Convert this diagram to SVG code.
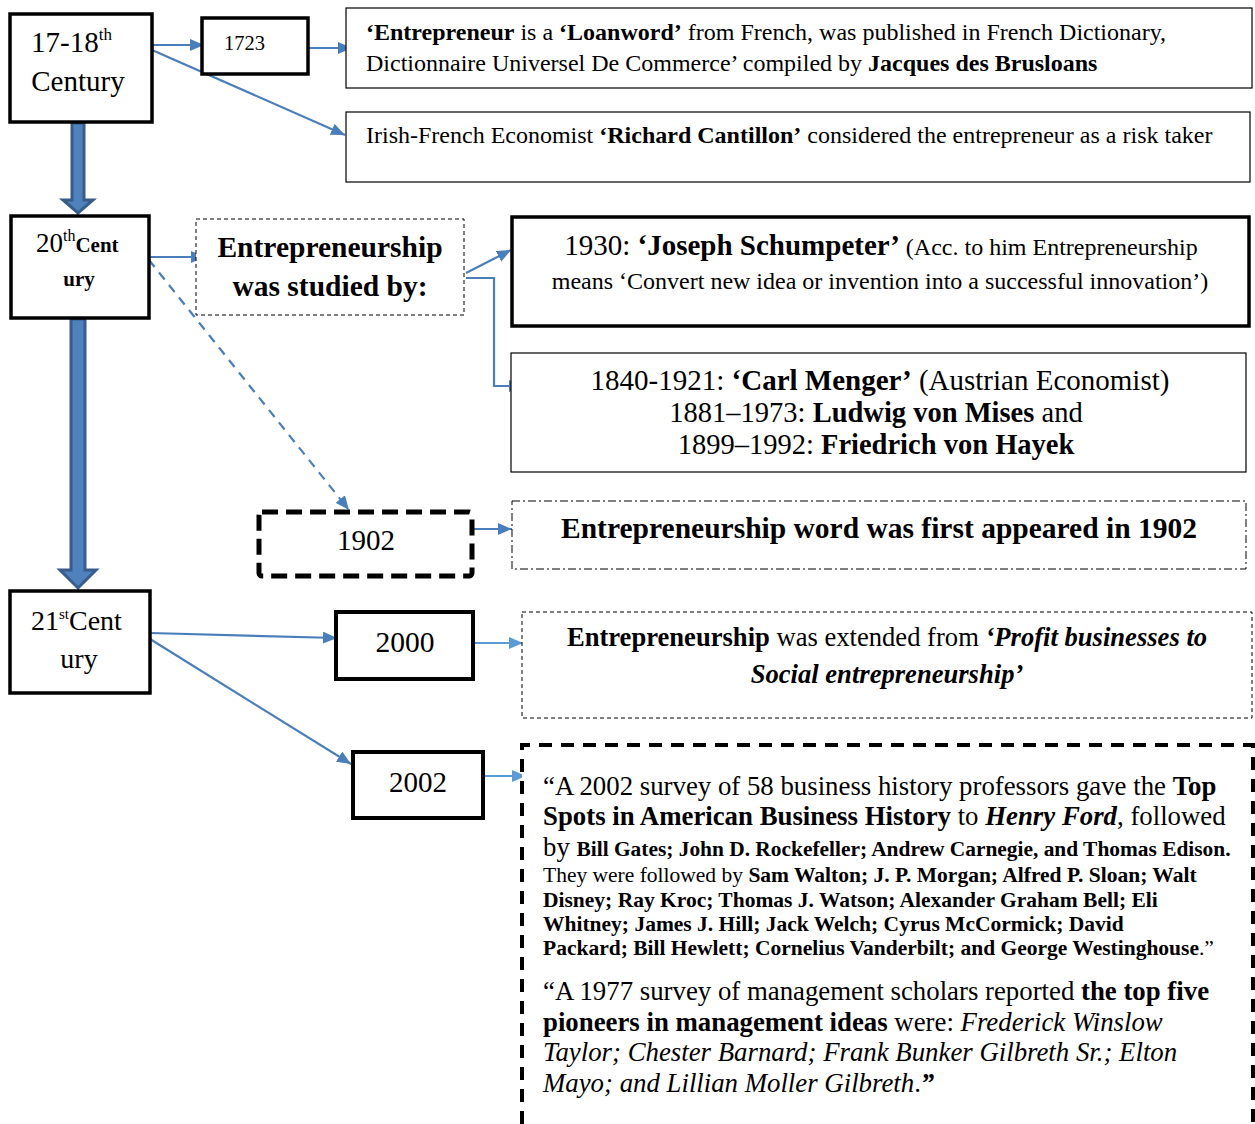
<svg xmlns="http://www.w3.org/2000/svg" width="1255" height="1124" viewBox="0 0 1255 1124">
<style>
text{font-family:"Liberation Serif","Times New Roman",serif;fill:#000}
.b{font-weight:bold}
.i{font-style:italic}
.thick{fill:#fff;stroke:#000;stroke-width:3.5}
.thin{fill:#fff;stroke:#000;stroke-width:1.2}
.c{fill:none;stroke:#4a7ebb;stroke-width:2.2}
.c2{fill:none;stroke:#5b9bd5;stroke-width:2.2}
.big{fill:#4f81bd;stroke:#385d8a;stroke-width:3}
</style>
<defs>
<marker id="a" viewBox="0 0 14 12" refX="14" refY="6" markerWidth="14" markerHeight="12" markerUnits="userSpaceOnUse" orient="auto"><path d="M0,0L14,6L0,12z" fill="#4a7ebb"/></marker>
<marker id="a2" viewBox="0 0 14 12" refX="14" refY="6" markerWidth="14" markerHeight="12" markerUnits="userSpaceOnUse" orient="auto"><path d="M0,0L14,6L0,12z" fill="#5b9bd5"/></marker>
</defs>
<rect width="1255" height="1124" fill="#fff"/>

<g id="connectors">
<path class="big" d="M72,123H84V200H93L78,213L63,200H72Z"/>
<path class="big" d="M71,319H85V570H96L78,588L60,570H71Z"/>
<line class="c" x1="152" y1="45" x2="204" y2="45" marker-end="url(#a)"/>
<line class="c" x1="305" y1="48" x2="352" y2="48" marker-end="url(#a)"/>
<line class="c" x1="152" y1="50" x2="345" y2="135" marker-end="url(#a)"/>
<line class="c" x1="149" y1="257" x2="205" y2="257" marker-end="url(#a)"/>
<line class="c" x1="466" y1="273" x2="511" y2="250" marker-end="url(#a)"/>
<path class="c" d="M466,278H494V386H523" marker-end="url(#a)"/>
<line class="c" x1="149" y1="260" x2="349" y2="510" stroke-dasharray="9,7" marker-end="url(#a)"/>
<line class="c" x1="472" y1="529" x2="512" y2="529" marker-end="url(#a)"/>
<line class="c" x1="150" y1="633" x2="337" y2="638" marker-end="url(#a)"/>
<line class="c" x1="150" y1="639" x2="351" y2="764" marker-end="url(#a)"/>
<line class="c2" x1="473" y1="643" x2="523" y2="643" marker-end="url(#a2)"/>
<line class="c2" x1="483" y1="776" x2="526" y2="776" marker-end="url(#a2)"/>
</g>

<g id="n-17-18">
<rect class="thick" x="10" y="14" width="142" height="108"/>
<text x="31" y="52" font-size="29">17-18<tspan font-size="17" dy="-12">th</tspan></text>
<text x="78" y="91" font-size="29" text-anchor="middle">Century</text>
</g>

<g id="n-1723">
<rect class="thick" x="202" y="18" width="106" height="56"/>
<text x="224" y="50" font-size="20.5">1723</text>
</g>

<g id="n-loanword">
<rect class="thin" x="346" y="8" width="906" height="80"/>
<text x="366" y="40" font-size="24"><tspan class="b">‘Entrepreneur</tspan> is a <tspan class="b">‘Loanword’</tspan> from French, was published in French Dictionary,</text>
<text x="366" y="71" font-size="24">Dictionnaire Universel De Commerce’ compiled by <tspan class="b">Jacques des Brusloans</tspan></text>
</g>

<g id="n-cantillon">
<rect class="thin" x="346" y="112" width="904" height="70"/>
<text x="366" y="143" font-size="24">Irish-French Economist <tspan class="b">‘Richard Cantillon’</tspan> considered the entrepreneur as a risk taker</text>
</g>

<g id="n-20">
<rect class="thick" x="11" y="216" width="138" height="102"/>
<text x="36" y="252" font-size="27">20<tspan font-size="16" dy="-11">th</tspan><tspan class="b" font-size="21" dy="11">Cent</tspan></text>
<text x="79" y="286" font-size="21" class="b" text-anchor="middle">ury</text>
</g>

<g id="n-studied">
<rect fill="#fff" stroke="#000" stroke-width="1" stroke-dasharray="4,3" x="196" y="219" width="268" height="96"/>
<text x="330" y="257" font-size="29.5" class="b" text-anchor="middle">Entrepreneurship</text>
<text x="330" y="296" font-size="29.5" class="b" text-anchor="middle">was studied by:</text>
</g>

<g id="n-schumpeter">
<rect class="thick" x="512" y="217" width="737" height="109"/>
<text x="881" y="255" font-size="29" text-anchor="middle">1930: <tspan class="b">‘Joseph Schumpeter’</tspan><tspan font-size="24"> (Acc. to him Entrepreneurship</tspan></text>
<text x="880" y="289" font-size="24" text-anchor="middle">means ‘Convert new idea or invention into a successful innovation’)</text>
</g>

<g id="n-menger">
<rect class="thin" x="511" y="353" width="735" height="119"/>
<text x="880" y="390" font-size="29" text-anchor="middle">1840-1921: <tspan class="b">‘Carl Menger’</tspan> (Austrian Economist)</text>
<text x="876" y="422" font-size="28.5" text-anchor="middle">1881–1973:  <tspan class="b">Ludwig von Mises</tspan> and</text>
<text x="876" y="454" font-size="28.5" text-anchor="middle">1899–1992: <tspan class="b">Friedrich von Hayek</tspan></text>
</g>

<g id="n-1902">
<rect fill="#fff" stroke="#000" stroke-width="5" stroke-dasharray="16,8" x="259" y="512" width="213" height="64" rx="3"/>
<text x="366" y="550" font-size="29" text-anchor="middle">1902</text>
</g>

<g id="n-firstappeared">
<rect fill="#fff" stroke="#000" stroke-width="1" stroke-dasharray="8,3,2,3" x="512" y="501" width="734" height="68"/>
<text x="879" y="538" font-size="29.5" class="b" text-anchor="middle">Entrepreneurship word was first appeared in 1902</text>
</g>

<g id="n-21">
<rect class="thick" x="10" y="591" width="140" height="102"/>
<text x="31" y="630" font-size="28">21<tspan font-size="15" dy="-11">st</tspan><tspan dy="11">Cent</tspan></text>
<text x="79" y="668" font-size="28" text-anchor="middle">ury</text>
</g>

<g id="n-2000">
<rect class="thick" x="336" y="612" width="137" height="67" style="stroke-width:4"/>
<text x="405" y="652" font-size="29.5" text-anchor="middle">2000</text>
</g>

<g id="n-profit">
<rect fill="#fff" stroke="#000" stroke-width="1" stroke-dasharray="4,3" x="522" y="612" width="730" height="106"/>
<text x="887" y="646" font-size="26.6" text-anchor="middle"><tspan class="b">Entrepreneurship</tspan> was extended from <tspan class="b i">‘Profit businesses to</tspan></text>
<text x="887" y="683" font-size="26.6" text-anchor="middle" class="b i">Social entrepreneurship’</text>
</g>

<g id="n-2002">
<rect class="thick" x="353" y="752" width="130" height="66" style="stroke-width:4"/>
<text x="418" y="792" font-size="29" text-anchor="middle">2002</text>
</g>

<g id="n-surveys">
<path d="M522,1124V745H1253V1124" fill="#fff" stroke="#000" stroke-width="4" stroke-dasharray="13,9"/>
<text x="543" y="795" font-size="26.8">“A 2002 survey of 58 business history professors gave the <tspan class="b">Top</tspan></text>
<text x="543" y="825" font-size="26.8"><tspan class="b">Spots in American Business History</tspan> to <tspan class="b i">Henry Ford</tspan>, followed</text>
<text x="543" y="856" font-size="26.8">by <tspan class="b" font-size="21.4">Bill Gates; John D. Rockefeller; Andrew Carnegie, and Thomas Edison.</tspan></text>
<text x="543" y="882" font-size="21.5">They were followed by <tspan class="b">Sam Walton; J. P. Morgan; Alfred P. Sloan; Walt</tspan></text>
<text x="543" y="907" font-size="21.5" class="b">Disney; Ray Kroc; Thomas J. Watson; Alexander Graham Bell; Eli</text>
<text x="543" y="931" font-size="21.5" class="b">Whitney; James J. Hill; Jack Welch; Cyrus McCormick; David</text>
<text x="543" y="955" font-size="21.5"><tspan class="b">Packard; Bill Hewlett; Cornelius Vanderbilt; and George Westinghouse</tspan>.”</text>
<text x="543" y="1000" font-size="26.8">“A 1977 survey of management scholars reported <tspan class="b">the top five</tspan></text>
<text x="543" y="1031" font-size="26.8"><tspan class="b">pioneers in management ideas</tspan> were: <tspan class="i">Frederick Winslow</tspan></text>
<text x="543" y="1061" font-size="26.8" class="i">Taylor; Chester Barnard; Frank Bunker Gilbreth Sr.; Elton</text>
<text x="543" y="1092" font-size="26.8"><tspan class="i">Mayo; and Lillian Moller Gilbreth</tspan>.<tspan class="b i">”</tspan></text>
</g>
</svg>
